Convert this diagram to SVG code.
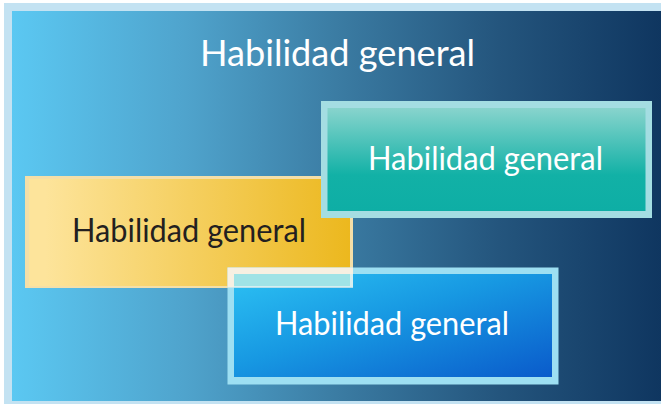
<svg xmlns="http://www.w3.org/2000/svg" width="661" height="404" viewBox="0 0 661 404">
<defs>
<linearGradient id="bg" x1="0" y1="0" x2="1" y2="0">
<stop offset="0" stop-color="#5bc8f2"/>
<stop offset="0.27" stop-color="#4fa3cc"/>
<stop offset="0.5" stop-color="#3b7ca3"/>
<stop offset="0.75" stop-color="#24557d"/>
<stop offset="1" stop-color="#0f3660"/>
</linearGradient>
<linearGradient id="teal" x1="0" y1="0" x2="0" y2="1">
<stop offset="0" stop-color="#88d4cd"/>
<stop offset="0.65" stop-color="#12b1a6"/>
<stop offset="1" stop-color="#0eaea5"/>
</linearGradient>
<linearGradient id="yellow" x1="0" y1="0" x2="1" y2="0">
<stop offset="0.05" stop-color="#fde49b"/>
<stop offset="1" stop-color="#ecb81e"/>
</linearGradient>
<linearGradient id="blue" x1="0" y1="0" x2="1" y2="1">
<stop offset="0" stop-color="#2cc1f3"/>
<stop offset="0.45" stop-color="#1798e2"/>
<stop offset="1" stop-color="#0a5bcb"/>
</linearGradient>
<style>
.lbl{font-family:"Lato","Liberation Sans",sans-serif;font-size:33px;text-anchor:middle}
.w{fill:#ffffff}
.d{fill:#231f20}
</style>
</defs>
<rect x="0" y="0" width="661" height="404" fill="#ffffff"/>
<g id="frame">
<rect x="4" y="3" width="657" height="401" fill="#c3e2f2"/>
<rect x="12" y="11" width="649" height="390" fill="url(#bg)"/>
<text class="lbl w" x="337.5" y="66" style="font-size:37px" textLength="275" lengthAdjust="spacingAndGlyphs">Habilidad general</text>
</g>
<g id="yellow-node">
<rect x="25" y="176" width="328" height="112" fill="#f4dfa8"/>
<rect x="29" y="179" width="321" height="107" fill="url(#yellow)"/>
<text class="lbl d" x="189" y="241.5" textLength="234" lengthAdjust="spacingAndGlyphs">Habilidad general</text>
</g>
<g id="teal-node">
<rect x="321" y="101" width="331" height="117" fill="#a4dde2"/>
<rect x="327.5" y="108" width="318" height="103" fill="url(#teal)"/>
<text class="lbl w" x="485.5" y="170" textLength="235" lengthAdjust="spacingAndGlyphs">Habilidad general</text>
</g>
<g id="blue-node">
<rect x="227.5" y="267.5" width="331" height="117" fill="#9ddff2"/>
<rect x="234" y="274" width="318" height="103" fill="url(#blue)"/>
<rect x="227.5" y="267.5" width="125.5" height="20" fill="#f7f0e2"/>
<rect x="234" y="274" width="116" height="12" fill="#a0e3e6"/>
<rect x="350" y="274" width="3" height="13.5" fill="#d6eef0"/>
<rect x="234" y="286" width="116" height="1.5" fill="#d6eef0"/>
<text class="lbl w" x="392" y="335" textLength="234" lengthAdjust="spacingAndGlyphs">Habilidad general</text>
</g>
</svg>
